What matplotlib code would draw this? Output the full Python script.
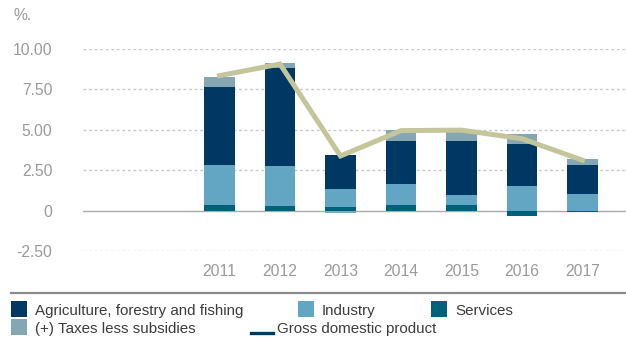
import matplotlib
matplotlib.use("Agg")
import matplotlib.pyplot as plt
import numpy as np
from matplotlib.patches import Rectangle
from matplotlib.lines import Line2D

plt.rcParams["font.family"] = ["Liberation Sans", "DejaVu Sans"]

years = ["2011", "2012", "2013", "2014", "2015", "2016", "2017"]
services = [0.37, 0.31, 0.25, 0.37, 0.37, -0.31, -0.10]
industry = [2.46, 2.45, 1.10, 1.29, 0.61, 1.54, 1.04]
agriculture = [4.79, 6.09, 2.09, 2.64, 3.32, 2.58, 1.79]
taxes = [0.67, 0.30, -0.12, 0.68, 0.68, 0.61, 0.36]
gdp = [8.35, 9.07, 3.38, 4.95, 4.98, 4.45, 3.12]

y_ticks = [-2.5, 0, 2.5, 5, 7.5, 10]
y_labels = ["-2.50", "0", "2.50", "5.00", "7.50", "10.00"]

C_AGRI = "#003864"
C_IND = "#62a6c4"
C_SERV = "#00617a"
C_TAX = "#85a7b1"
C_GDP = "#c5c59b"
C_TICK = "#9a9a9a"
C_TEXT = "#3c3c3c"

W, H = 626, 340
fig = plt.figure(figsize=(W / 100, H / 100), dpi=100)


def fx(px):
    return px / W


def fy(py):
    return 1 - py / H


ax = fig.add_axes([fx(83), fy(251), fx(626 - 83), (251 - 49) / H])

x = np.arange(len(years))
pos_base = np.zeros(len(years))
neg_base = np.zeros(len(years))
for vals, color in [(services, C_SERV), (industry, C_IND),
                    (agriculture, C_AGRI), (taxes, C_TAX)]:
    vals = np.array(vals)
    bottoms = np.where(vals >= 0, pos_base, neg_base)
    ax.bar(x, vals, 0.51, bottom=bottoms, color=color, zorder=2, linewidth=0)
    pos_base = pos_base + np.where(vals >= 0, vals, 0)
    neg_base = neg_base + np.where(vals < 0, vals, 0)

ax.plot(x, gdp, color=C_GDP, lw=3.6, zorder=3, solid_joinstyle="miter")

for t in y_ticks:
    if t == 0:
        ax.axhline(0, color="#aaaaaa", lw=1.0, zorder=1)
    else:
        ax.axhline(t, color="#c8c8c8", lw=1.0, dashes=(2, 2), zorder=1)

ax.set_xlim(-2.256, 6.72)
ax.set_ylim(-2.5, 10)
ax.set_xticks(x)
ax.set_xticklabels(years)
ax.set_yticks(y_ticks)
ax.set_yticklabels(y_labels)
ax.tick_params(axis="both", length=0, labelsize=11.3, labelcolor=C_TICK)
ax.tick_params(axis="y", pad=22)
ax.tick_params(axis="x", pad=9)
for s in ax.spines.values():
    s.set_visible(False)

fig.text(fx(13), fy(15), "%.", fontsize=11.3, color=C_TICK, va="center", ha="left")

# legend block below the separator rule
fig.add_artist(Line2D([fx(11), fx(626)], [fy(293.3), fy(293.3)], color="#8a8a8a", lw=1.6))

legend_boxes = [
    (11, 301, 311, C_AGRI, "Agriculture, forestry and fishing"),
    (298, 301, 311, C_IND, "Industry"),
    (431, 301, 311, C_SERV, "Services"),
    (11, 319, 329.5, C_TAX, "(+) Taxes less subsidies"),
]
for px, py, ty, color, label in legend_boxes:
    fig.add_artist(Rectangle((fx(px), fy(py + 16)), 16 / W, 16 / H,
                             color=color, transform=fig.transFigure, lw=0))
    fig.text(fx(px + 24), fy(ty), label, fontsize=10.9, color=C_TEXT,
             va="center", ha="left")

fig.add_artist(Line2D([fx(251), fx(273)], [fy(332.7), fy(332.7)], color=C_AGRI, lw=2.4))
fig.text(fx(277), fy(329.5), "Gross domestic product", fontsize=10.9, color=C_TEXT,
         va="center", ha="left")

fig.savefig("out.png", dpi=100)
